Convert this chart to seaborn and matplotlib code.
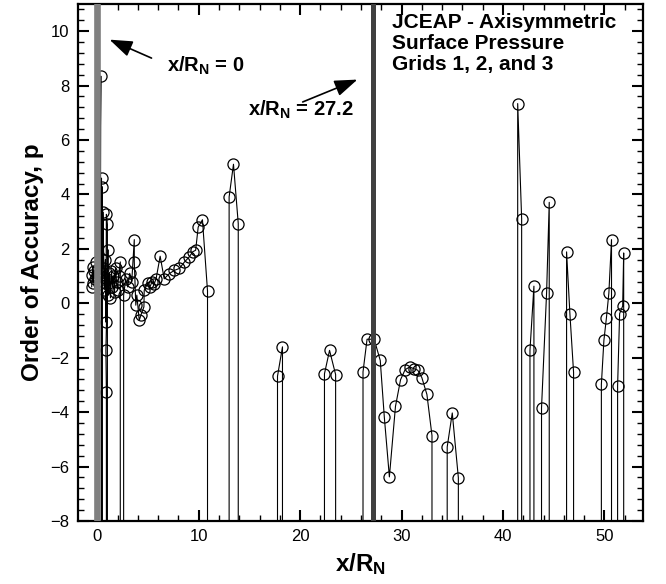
import numpy as np
import pandas as pd
import seaborn as sns
import matplotlib.pyplot as plt
from matplotlib.ticker import MultipleLocator

# order of accuracy along the surface, OFF = diverged (off the bottom of the chart)
OFF = -99.0

# nose region (surface wraps round x/R_N = 0, so x is not monotonic here)
nose_x = [-0.55, -0.5, -0.45, -0.4, -0.3, -0.2, -0.1, 0.0, 0.1, 0.2, 0.35, 0.3, 0.42, 0.42,
          0.5, 0.5, 0.55, 0.55, 0.7, 0.8, 0.85, 0.9, 1.0, 1.0, 0.9, 0.9, 0.85, 1.0,
          1.05, 1.1, 1.2, 1.3, 1.4, 1.5, 1.6, 1.7, 1.8, 1.9, 2.0, 2.1, 2.27, 2.27,
          2.6, 2.6, 2.8, 3.0, 3.2, 3.4, 3.65, 3.65, 3.8, 3.9, 4.14, 4.3, 4.6, 4.63,
          5.0, 5.2, 5.4, 5.6, 5.8, 6.2, 6.6, 7.1, 7.6, 8.1, 8.6, 9.06, 9.4, 9.7,
          9.95, 10.37, 10.87, 10.87]
nose_p = [0.6, 1.05, 1.35, 0.75, 1.2, 0.9, 1.5, 1.0, 1.25, 0.7, 8.35, 1.1, 4.6, OFF,
          OFF, 4.28, 1.3, 3.36, 0.5, 1.6, -0.69, 3.27, 2.9, OFF, OFF, -3.26, -1.73, 0.9,
          1.97, 0.3, 1.1, 0.2, 1.2, 0.6, 1.0, 0.4, 1.3, 0.8, 0.5, 1.0, 1.52, OFF,
          OFF, 0.29, 0.9, 0.6, 1.1, 0.8, 2.34, 1.52, -0.07, 0.3, -0.63, -0.44, -0.13, 0.48,
          0.75, 0.6, 0.8, 0.7, 0.9, 1.73, 0.9, 1.09, 1.21, 1.28, 1.52, 1.7, 1.89, 1.95,
          2.8, 3.07, 0.45, OFF]

# forebody / mid body
mid_x = [13.0, 13.0, 13.43, 13.9, 13.9,
         17.77, 17.77, 18.26, 18.26,
         22.4, 22.4, 22.9, 23.5, 23.5,
         26.2, 26.2, 26.6, 27.3, 27.9, 28.3, 28.8, 29.4, 29.9, 30.35, 30.8, 31.2,
         31.6, 32.0, 32.5, 33.0, 33.0,
         34.5, 34.5, 35.0, 35.6, 35.6]
mid_p = [OFF, 3.91, 5.11, 2.93, OFF,
         OFF, -2.68, -1.6, OFF,
         OFF, -2.59, -1.73, -2.62, OFF,
         OFF, -2.52, -1.32, -1.32, -2.1, -4.18, -6.38, -3.79, -2.81, -2.44, -2.34, -2.4,
         -2.46, -2.73, -3.35, -4.86, OFF,
         OFF, -5.28, -4.03, -6.41, OFF]

# aft body
aft_x = [41.45, 41.45, 41.84, 41.84,
         42.66, 42.66, 43.05, 43.05,
         43.8, 43.8, 44.3, 44.56, 44.56,
         46.27, 46.27, 46.6, 46.96, 46.96,
         49.7, 49.7, 49.95, 50.2, 50.44, 50.7, 50.7,
         51.3, 51.3, 51.5, 51.8, 51.9, 51.9]
aft_p = [OFF, 7.34, 3.11, OFF,
         OFF, -1.73, 0.63, OFF,
         OFF, -3.84, 0.39, 3.71, OFF,
         OFF, 1.89, -0.4, -2.54, OFF,
         OFF, -2.98, -1.36, -0.53, 0.38, 2.34, OFF,
         OFF, -3.04, -0.38, -0.1, 1.85, OFF]

df = pd.DataFrame({"x": nose_x + mid_x + aft_x, "p": nose_p + mid_p + aft_p})

sns.set_style("ticks")
plt.rcParams['font.family'] = ['Liberation Sans', 'DejaVu Sans']
plt.rcParams['text.color'] = 'black'
plt.rcParams['axes.labelcolor'] = 'black'
plt.rcParams['mathtext.fontset'] = 'custom'
plt.rcParams['mathtext.rm'] = 'Liberation Sans:bold'
plt.rcParams['mathtext.bf'] = 'Liberation Sans:bold'
plt.rcParams['mathtext.default'] = 'bf'

fig = plt.figure(figsize=(6.66, 5.84), dpi=100)
ax = fig.add_axes([0.1171, 0.1079, 0.8483, 0.8853])

sns.lineplot(data=df, x="x", y="p", sort=False, estimator=None, color="black",
             lw=0.8, marker="o", ms=8, mfc="none", mec="black", mew=0.9, ax=ax)

# reference stations
ax.axvline(0.0, color="#808080", lw=4.8, zorder=5)
ax.axvline(27.2, color="#404040", lw=3.6, zorder=5)

ax.set_xlim(-1.9, 53.8)
ax.set_ylim(-8, 11)
ax.xaxis.set_major_locator(MultipleLocator(10))
ax.xaxis.set_minor_locator(MultipleLocator(2))
ax.yaxis.set_major_locator(MultipleLocator(2))
ax.yaxis.set_minor_locator(MultipleLocator(0.4))
ax.tick_params(which="both", direction="in", top=True, right=True, colors="black",
               labelsize=12)
ax.tick_params(which="major", length=8, width=1.5, pad=6)
ax.tick_params(which="minor", length=4.5, width=1)
for s in ax.spines.values():
    s.set_linewidth(1.6)
    s.set_color("black")

ax.set_xlabel("x/R$_N$", fontsize=17.5, fontweight="bold", labelpad=5)
ax.set_ylabel("Order of Accuracy, p", fontsize=17.5, fontweight="bold", labelpad=5)

ax.annotate("", xy=(0.96, 9.73), xytext=(5.6, 8.97),
            arrowprops=dict(arrowstyle="-|>,head_length=0.7,head_width=0.25",
                            color="black", lw=1.2, mutation_scale=20))
ax.text(6.9, 8.5, "x/R$_N$ = 0", fontsize=14.5, fontweight="bold", va="baseline")

ax.annotate("", xy=(25.9, 8.26), xytext=(20.0, 7.36),
            arrowprops=dict(arrowstyle="-|>,head_length=0.7,head_width=0.25",
                            color="black", lw=1.2, mutation_scale=20))
ax.text(14.9, 6.91, "x/R$_N$ = 27.2", fontsize=14.5, fontweight="bold", va="baseline")

ax.text(29.06, 10.65, "JCEAP - Axisymmetric\nSurface Pressure\nGrids 1, 2, and 3",
        fontsize=15, fontweight="bold", va="top", ha="left", linespacing=1.12)

fig.savefig("out.png", dpi=100)
